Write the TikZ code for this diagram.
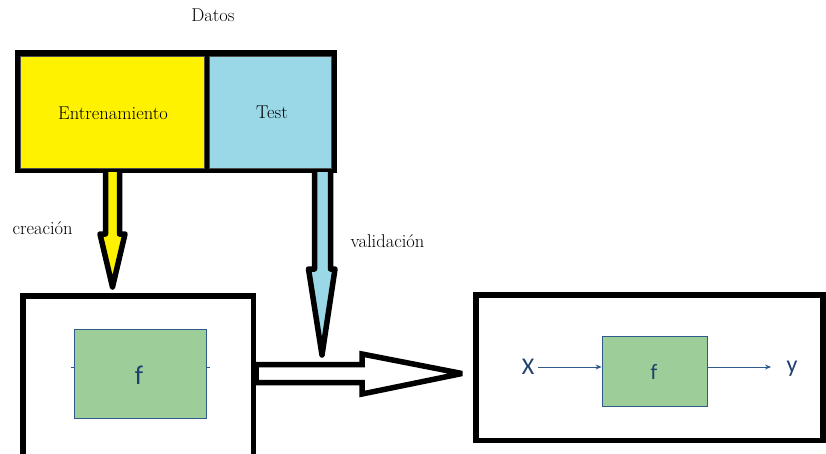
\documentclass[tikz,border=0pt]{standalone}
\usepackage{fontspec}
\newfontfamily\carl{Carlito}
\usetikzlibrary{arrows.meta}
\definecolor{ylw}{HTML}{FFF200}
\definecolor{lblue}{HTML}{9AD8E8}
\definecolor{grn}{HTML}{9DCD99}
\definecolor{dblue}{HTML}{2E5A8C}
\definecolor{tblue}{HTML}{1F3F6E}
\tikzset{
  serif/.style={font=\fontsize{18.5}{22}\selectfont},
  sanslab/.style={text=tblue,font=\carl\fontsize{24}{28}\selectfont},
  fatarrow/.style={draw=black,line width=5.5pt,line join=round},
  bigbox/.style={draw=black,line width=5.5pt,fill=white},
  fbox/.style={draw=dblue,line width=0.8pt,fill=grn},
  thinarrow/.style={draw=dblue,line width=0.9pt,-{Stealth[length=6pt,width=5pt]}}
}
\begin{document}
\begin{tikzpicture}[x=1pt,y=-1pt]
\useasboundingbox (0,0) rectangle (826,453);
\clip (0,0) rectangle (826,453);
% data block
\node[serif] (datos) at (213,15) {Datos};
\fill[black] (15,50) rectangle (337,173);
\draw[fill=ylw,draw=black!70,line width=0.4pt] (20,56) rectangle (204,168);
\draw[fill=lblue,draw=black!70,line width=0.4pt] (209,56) rectangle (331,168);
\node[serif] (train) at (113,113) {Entrenamiento};
\node[serif] (test) at (272,112) {Test};
% fat arrows down
\draw[fatarrow,fill=ylw] (105.5,172) -- (105.5,234) -- (100,234) -- (112.5,287) -- (125,234) -- (119.5,234) -- (119.5,172);
\draw[fatarrow,fill=lblue] (314.5,172) -- (314.5,269) -- (308.5,269) -- (322,355) -- (335,269) -- (330.5,269) -- (330.5,172);
\node[serif,anchor=west] (crea) at (9,228) {creación};
\node[serif,anchor=west] (valid) at (347,241) {validación};
% left box
\draw[bigbox] (22.75,295.75) rectangle (253.25,480);
\draw[dblue,line width=0.8pt] (71,367) -- (210,367);
\node[fbox,minimum width=132pt,minimum height=89pt] (g1) at (140,373.5) {};
\node[text=tblue,font=\carl\fontsize{27}{30}\selectfont] (f1) at (139,375) {f};
% big hollow arrow
\draw[fatarrow,line join=miter,miter limit=3,fill=white] (256,364.5) -- (362,364.5) -- (362,354) -- (462,373.5) -- (362,394) -- (362,382.5) -- (256,382.5) -- cycle;
% right box
\draw[bigbox] (475.75,294.75) rectangle (823,440.25);
\node[fbox,minimum width=105pt,minimum height=70pt] (g2) at (654.5,371) {};
\node[text=tblue,font=\carl\fontsize{22}{26}\selectfont] (f2) at (654,372) {f};
\node[sanslab] (X) at (528,367) {X};
\node[sanslab] (Y) at (792,369) {y};
\draw[thinarrow] (X.east) -- (g2.west |- X.east);
\draw[thinarrow] (g2.east |- X.east) -- ([xshift=-12pt]Y.west |- X.east);
\end{tikzpicture}
\end{document}
